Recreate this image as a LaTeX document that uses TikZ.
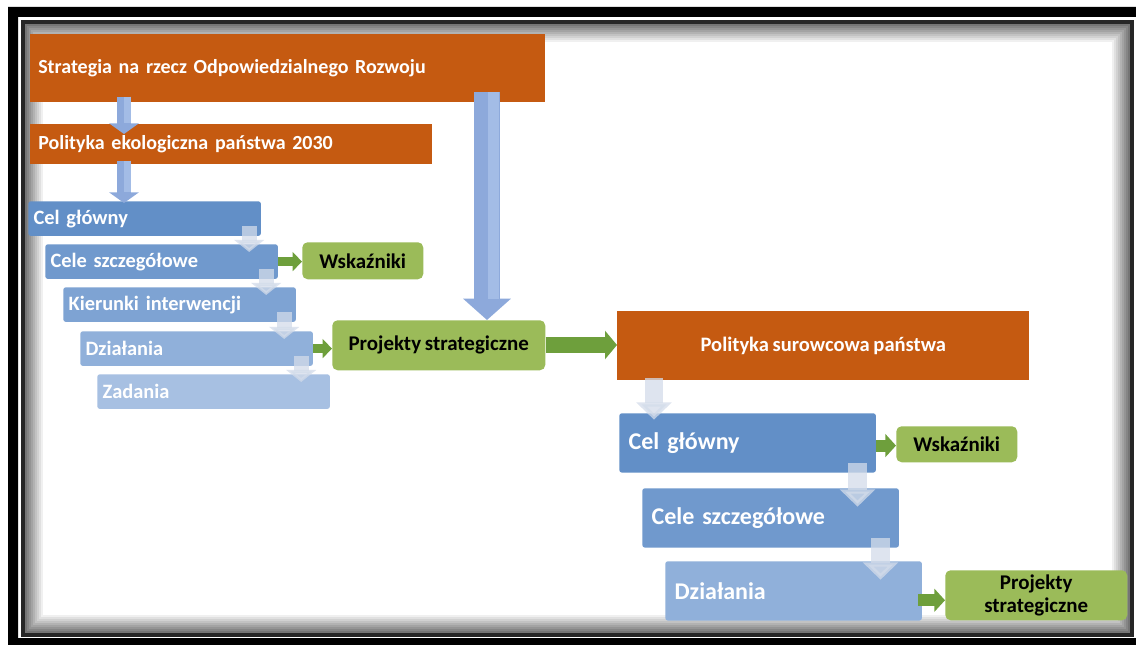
\documentclass[tikz,border=0pt]{standalone}
\usepackage{fontspec}
\setmainfont{Carlito}[WordSpace=0.8]
\usetikzlibrary{arrows.meta}
\definecolor{orangeR}{HTML}{C55A11}
\definecolor{greenR}{HTML}{9BBB59}
\definecolor{greenA}{HTML}{6E9F3C}
\definecolor{blueA}{HTML}{8DA9DB}
\definecolor{blueL}{HTML}{A3BCE6}
\definecolor{lightA}{HTML}{D3DCEA}
\definecolor{blueI}{HTML}{628FC7}
\definecolor{blueII}{HTML}{7099CD}
\definecolor{blueIII}{HTML}{7EA3D3}
\definecolor{blueIV}{HTML}{90B0DA}
\definecolor{blueV}{HTML}{A7C0E2}

\begin{document}
\begin{tikzpicture}[x=0.75pt, y=-0.75pt,
	orangebox/.style={fill=orangeR, text=white, anchor=north west, inner xsep=6pt, inner ysep=0pt, font=\bfseries\fontsize{15}{18}\selectfont},
	bluebox/.style={fill=#1, text=white, anchor=north west, rounded corners=2pt, inner xsep=4pt, inner ysep=0pt, align=left, text width=166.5pt, minimum height=26pt, font=\bfseries\fontsize{15.3}{18}\selectfont},
	bigbluebox/.style={bluebox=#1, inner xsep=7pt, text width=178.5pt, minimum height=44.5pt, font=\bfseries\fontsize{18}{21}\selectfont},
	greenbox/.style={fill=greenR, anchor=north west, rounded corners=4pt, inner sep=0pt, align=center, font=\bfseries\fontsize{15.7}{17}\selectfont},
	bluearrow/.style={blueA, line width=11pt, -{Triangle[width=22pt, length=8pt]}},
	lightarrow/.style={lightA, opacity=0.75, line width=11pt, -{Triangle[width=22pt, length=9pt]}},
	greenarrow/.style={greenA, line width=7pt, -{Triangle[width=14pt, length=7pt]}}]
\useasboundingbox (0,0) rectangle (1136,645);
\fill[white] (0,0) rectangle (1136,645);
% frame
\fill[black] (8,7) rectangle (1136,17) (8,7) rectangle (18,645) (8,638) rectangle (1136,645);
\foreach \i [evaluate=\i as \g using int(60-6*\i)] in {1,...,9} {
	\draw[black!\g, line width=1.6pt] ({24+2*\i},{23+2*\i}) rectangle ({1131-2*\i},{634-2*\i});
	};
\draw[black!85, line width=2.5pt] (23,22) rectangle (1132,635);

% left part
\node[orangebox, align=left, text width=374pt, minimum height=51pt] (sor) at (30,34) {Strategia na rzecz Odpowiedzialnego Rozwoju};
\node[orangebox, align=left, text width=289.5pt, minimum height=30pt] (pol) at (30,124) {Polityka ekologiczna państwa 2030};
\node[bluebox=blueI] (cel1) at (28,201) {Cel główny};
\node[bluebox=blueII] (szcz1) at (45,244) {Cele szczegółowe};
\node[bluebox=blueIII] (kier) at (63,287) {Kierunki interwencji};
\node[bluebox=blueIV] (dzial1) at (80,331) {Działania};
\node[bluebox=blueV] (zad) at (97,374) {Zadania};
\node[greenbox, minimum width=90.75pt, minimum height=27.75pt] (wsk1) at (302,242) {Wskaźniki};
\node[greenbox, minimum width=159.75pt, minimum height=37.5pt] (proj1) at (332,320) {Projekty strategiczne};

% right part
\node[orangebox, align=center, minimum width=309pt, minimum height=51.75pt, font=\bfseries\fontsize{15.4}{18}\selectfont] (sur) at (617,311) {Polityka surowcowa państwa};
\node[bigbluebox=blueI] (cel2) at (619,413) {Cel główny};
\node[bigbluebox=blueII] (szcz2) at (642,488) {Cele szczegółowe};
\node[bigbluebox=blueIV] (dzial2) at (665,561) {Działania};
\node[greenbox, minimum width=90.75pt, minimum height=27pt] (wsk2) at (896,426) {Wskaźniki};
\node[greenbox, minimum width=136.5pt, minimum height=37.5pt] (proj2) at (945,570) {Projekty\\strategiczne};

% blue arrows
\coordinate (top) at (487,92);
\draw[bluearrow] ([xshift=70.5pt, yshift=4.5pt]sor.south west) -- ([xshift=70.5pt, yshift=-7.5pt]pol.north west);
\draw[blueL, line width=5pt] ([xshift=73pt, yshift=4.5pt]sor.south west) -- ([xshift=73pt, yshift=1pt]pol.north west);
\draw[bluearrow] ([xshift=70.5pt, yshift=3pt]pol.south west) -- ([xshift=72pt, yshift=-1.5pt]cel1.north west);
\draw[blueL, line width=5pt] ([xshift=73pt, yshift=3pt]pol.south west) -- ([xshift=73pt, yshift=7pt]pol.south west |- cel1.north);
\draw[bluearrow, line width=20pt, -{Triangle[width=35pt, length=16pt]}] (top) -- (top |- proj1.north);
\draw[blueL, line width=8pt] ([xshift=5pt]top) -- ([xshift=5pt, yshift=16pt]top |- proj1.north);

% light arrows
\foreach \a/\b in {cel1/szcz1, szcz1/kier, kier/dzial1, dzial1/zad} {
	\draw[lightarrow] ([xshift=-9pt, yshift=7.5pt]\a.south east) -- ([xshift=-9pt, yshift=-6pt]\a.south east |- \b.north);
	};
\draw[lightarrow, line width=14pt, -{Triangle[width=26pt, length=13pt]}] ([xshift=27.75pt, yshift=2pt]sur.south west) -- ([xshift=26.25pt, yshift=-5pt]cel2.north west);
\foreach \a/\b in {cel2/szcz2, szcz2/dzial2} {
	\draw[lightarrow, line width=14pt, -{Triangle[width=26pt, length=13pt]}] ([xshift=-14pt, yshift=7.5pt]\a.south east) -- ([xshift=-14pt, yshift=-14pt]\a.south east |- \b.north);
	};

% green arrows
\draw[greenarrow] (szcz1.east) -- (wsk1.west |- szcz1.east);
\draw[greenarrow] (dzial1.east) -- (proj1.west |- dzial1.east);
\draw[greenarrow, line width=12pt, -{Triangle[width=21pt, length=9pt]}] (proj1.east |- 0,345) -- (sur.west |- 0,345);
\draw[greenarrow, line width=9pt, -{Triangle[width=17pt, length=8pt]}] ([yshift=-2pt]cel2.east) -- ([yshift=-2pt]wsk2.west |- cel2.east);
\draw[greenarrow, line width=9pt, -{Triangle[width=17pt, length=8pt]}] ([xshift=-3pt, yshift=-7pt]dzial2.east) -- ([yshift=-7pt]proj2.west |- dzial2.east);
\end{tikzpicture}
\end{document}
